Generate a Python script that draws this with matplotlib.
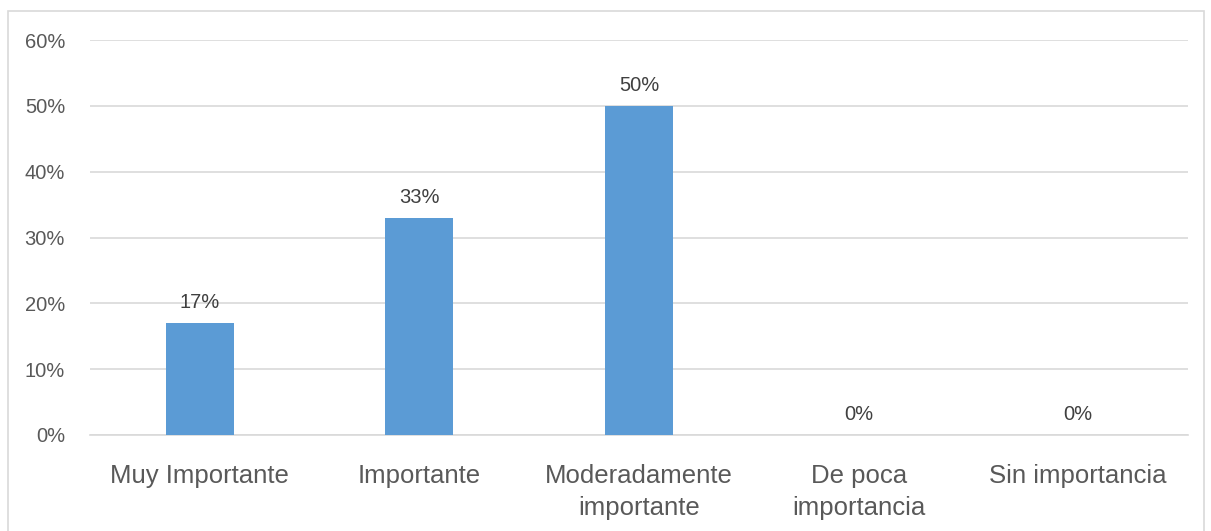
import matplotlib.pyplot as plt
from matplotlib.patches import Rectangle

categories = ['Muy Importante', 'Importante', 'Moderadamente\nimportante', 'De poca\nimportancia', 'Sin importancia']
values = [17, 33, 50, 0, 0]
labels = ['17%', '33%', '50%', '0%', '0%']
yticks = [0, 10, 20, 30, 40, 50, 60]

plt.rcParams['font.family'] = ['Liberation Sans', 'DejaVu Sans']

W, H = 1211, 531
fig = plt.figure(figsize=(W / 100, H / 100), dpi=100)
ax = fig.add_axes([90 / W, 1 - 435 / H, (1188 - 90) / W, (435 - 40) / H])

# outer chart border like the Excel chart area
fig.patches.append(Rectangle((8 / W, -0.05), (1204 - 8) / W, 1.05 - 11 / H,
                             transform=fig.transFigure, fill=False,
                             edgecolor='#d9d9d9', linewidth=1.2))

x = range(len(categories))
ax.bar(x, values, width=0.31, color='#5b9bd5', zorder=3)
for i, v in enumerate(values):
    ax.text(i, v + 1.7, labels[i], ha='center', va='bottom', fontsize=14.5, color='#404040')

ax.set_xlim(-0.5, len(categories) - 0.5)
ax.set_ylim(0, 60)
ax.set_yticks(yticks)
ax.set_yticklabels([str(t) + '%' for t in yticks], fontsize=14.5, color='#595959')
ax.set_xticks(list(x))
ax.set_xticklabels(categories, fontsize=18.5, color='#595959', linespacing=1.4)
ax.tick_params(axis='both', length=0)
ax.tick_params(axis='y', pad=18)
ax.tick_params(axis='x', pad=21)
ax.grid(axis='y', color='#d9d9d9', linewidth=1.2, zorder=0)
for s in ['top', 'right', 'left']:
    ax.spines[s].set_visible(False)
ax.spines['bottom'].set_color('#d9d9d9')
ax.spines['bottom'].set_linewidth(1.2)

fig.savefig('out.png', dpi=100)
